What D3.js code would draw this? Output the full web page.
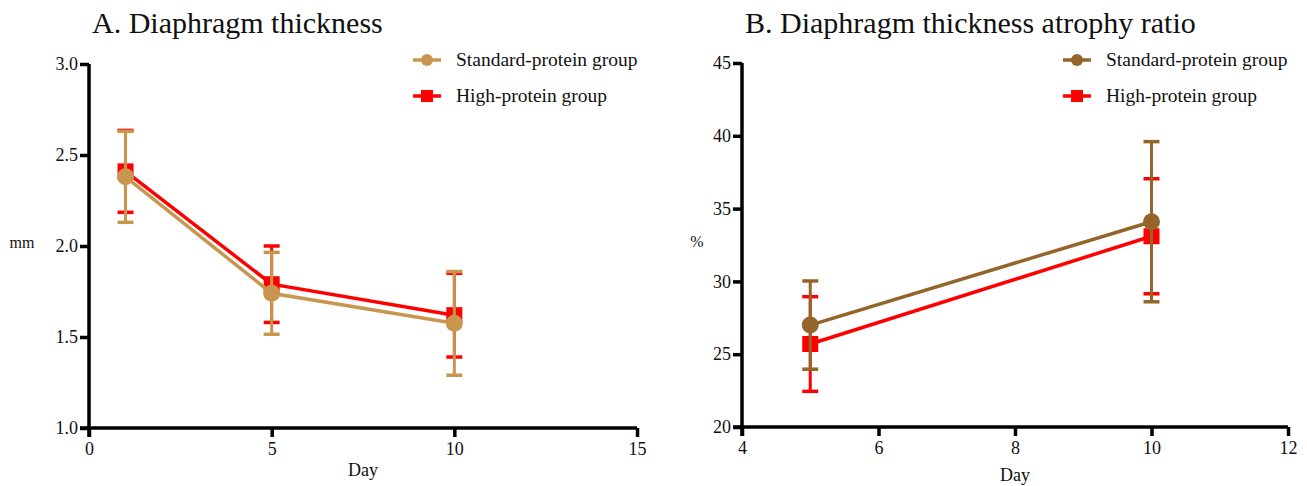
<!DOCTYPE html>
<html>
<head>
<meta charset="utf-8">
<script src="https://cdn.jsdelivr.net/npm/d3@7"></script>
<style>
  body { margin: 0; background: #fff; }
  svg text { font-family: "Liberation Serif", "Times New Roman", serif; fill: #111; }
</style>
</head>
<body>
<script>
// panel A - diaphragm thickness (mm)
var daysA = [1, 5, 10];
var stdMeanA = [2.38, 1.74, 1.575];
var stdSdA = [0.25, 0.225, 0.285];
var highMeanA = [2.41, 1.79, 1.62];
var highSdA = [0.225, 0.21, 0.23];
var xTicksA = [0, 5, 10, 15];
var yTicksA = [1.0, 1.5, 2.0, 2.5, 3.0];

// panel B - atrophy ratio (%)
var daysB = [5, 10];
var stdMeanB = [27.0, 34.1];
var stdSdB = [3.03, 5.5];
var highMeanB = [25.7, 33.1];
var highSdB = [3.25, 3.95];
var xTicksB = [4, 6, 8, 10, 12];
var yTicksB = [20, 25, 30, 35, 40, 45];

var seriesNames = ["Standard-protein group", "High-protein group"];

var svg = d3.select("body").append("svg")
  .attr("width", 1307)
  .attr("height", 486);

function zip(days, mean, sd) {
  return days.map(function(d, i) { return {day: d, mean: mean[i], sd: sd[i]}; });
}

function drawPanel(p) {
  var g = svg.append("g");
  var x = d3.scaleLinear().domain(d3.extent(p.xTicks)).range([p.left, p.right]);
  var y = d3.scaleLinear().domain(d3.extent(p.yTicks)).range([p.bottom, p.top]);

  g.append("text").attr("x", p.left + 3).attr("y", 33)
    .style("font-size", "30px").text(p.title);

  // axes
  var xa = g.append("g").attr("transform", "translate(0," + p.bottom + ")")
    .call(d3.axisBottom(x).tickValues(p.xTicks).tickSize(9).tickSizeOuter(0).tickPadding(5));
  var ya = g.append("g").attr("transform", "translate(" + p.left + ",0)")
    .call(d3.axisLeft(y).tickValues(p.yTicks).tickSize(9).tickSizeOuter(0).tickPadding(2)
      .tickFormat(p.yFormat));
  [xa, ya].forEach(function(a) {
    a.attr("font-family", null);
    a.select(".domain").attr("stroke", "#000").attr("stroke-width", 3.5);
    a.selectAll(".tick line").attr("stroke", "#000").attr("stroke-width", 3.5);
    a.selectAll("text").style("font-size", "18px").attr("fill", "#111");
  });
  // extend domain lines slightly past the corner
  xa.select(".domain").attr("d", "M" + (p.left - 9) + ",0H" + p.right);
  ya.select(".domain").attr("d", "M0," + (p.bottom + 9) + "V" + p.top);

  g.append("text").attr("x", (p.left + p.right) / 2).attr("y", p.bottom + p.dayDy)
    .attr("text-anchor", "middle").style("font-size", "18px").text("Day");
  g.append("text").attr("x", p.ylabX).attr("y", (p.top + p.bottom) / 2 + 2)
    .attr("text-anchor", "middle").style("font-size", "16px").text(p.ylab);

  var line = d3.line().x(function(d) { return x(d.day); }).y(function(d) { return y(d.mean); });
  var cap = 8;

  p.series.slice().reverse().forEach(function(s) {
    var sg = g.append("g");
    sg.append("path").datum(s.data).attr("d", line)
      .attr("fill", "none").attr("stroke", s.color).attr("stroke-width", 3.5);
    s.data.forEach(function(d) {
      var cx = x(d.day);
      if (s.shape === "square") {
        sg.append("rect").attr("x", cx - 8).attr("y", y(d.mean) - 8)
          .attr("width", 16).attr("height", 16).attr("fill", s.color);
      }
      sg.append("line").attr("x1", cx).attr("x2", cx)
        .attr("y1", y(d.mean - d.sd)).attr("y2", y(d.mean + d.sd))
        .attr("stroke", s.color).attr("stroke-width", 3);
      [d.mean - d.sd, d.mean + d.sd].forEach(function(v) {
        sg.append("line").attr("x1", cx - cap).attr("x2", cx + cap)
          .attr("y1", y(v)).attr("y2", y(v))
          .attr("stroke", s.color).attr("stroke-width", 3.5);
      });
      if (s.shape === "circle") {
        sg.append("circle").attr("cx", cx).attr("cy", y(d.mean)).attr("r", 8.5)
          .attr("fill", s.color);
      }
    });
  });

  // legend
  p.series.forEach(function(s, i) {
    var ly = 60 + i * 36;
    var lg = g.append("g");
    lg.append("line").attr("x1", p.legX).attr("x2", p.legX + 28)
      .attr("y1", ly).attr("y2", ly).attr("stroke", s.color).attr("stroke-width", 3.5);
    if (s.shape === "circle") {
      lg.append("circle").attr("cx", p.legX + 14).attr("cy", ly).attr("r", 6).attr("fill", s.color);
    } else {
      lg.append("rect").attr("x", p.legX + 8).attr("y", ly - 6).attr("width", 12).attr("height", 12)
        .attr("fill", s.color);
    }
    lg.append("text").attr("x", p.legX + 43).attr("y", ly + 6)
      .style("font-size", "19.5px").text(s.name);
  });
}

drawPanel({
  title: "A. Diaphragm thickness",
  left: 89, right: 637, top: 64, bottom: 428,
  xTicks: xTicksA, yTicks: yTicksA,
  yFormat: d3.format(".1f"),
  ylab: "mm", ylabX: 22, dayDy: 48,
  legX: 413,
  series: [
    {name: seriesNames[0], color: "#c8964f", shape: "circle", data: zip(daysA, stdMeanA, stdSdA)},
    {name: seriesNames[1], color: "#ff0000", shape: "square", data: zip(daysA, highMeanA, highSdA)}
  ]
});

drawPanel({
  title: "B. Diaphragm thickness atrophy ratio",
  left: 742, right: 1288, top: 63, bottom: 427,
  xTicks: xTicksB, yTicks: yTicksB,
  yFormat: d3.format("d"),
  ylab: "%", ylabX: 697, dayDy: 54,
  legX: 1063,
  series: [
    {name: seriesNames[0], color: "#94652b", shape: "circle", data: zip(daysB, stdMeanB, stdSdB)},
    {name: seriesNames[1], color: "#ff0000", shape: "square", data: zip(daysB, highMeanB, highSdB)}
  ]
});
</script>
</body>
</html>
